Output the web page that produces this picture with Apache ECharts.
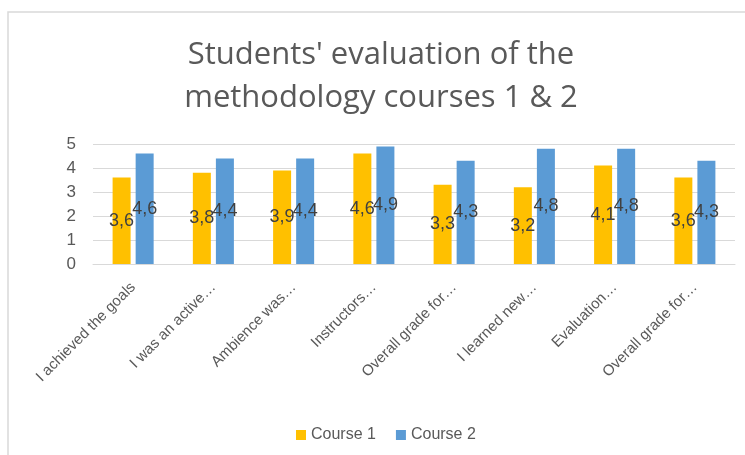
<!DOCTYPE html>
<html>
<head>
<meta charset="utf-8">
<script src="https://cdn.jsdelivr.net/npm/echarts@6/dist/echarts.min.js"></script>
<style>
html,body{margin:0;padding:0;background:#fff;}
#c{width:745px;height:455px;}
</style>
</head>
<body>
<div id="c"></div>
<script>
var categories = ["I achieved the goals","I was an active…","Ambience was…","Instructors…","Overall grade for…","I learned new…","Evaluation…","Overall grade for…"];
var course1 = [3.6,3.8,3.9,4.6,3.3,3.2,4.1,3.6];
var course2 = [4.6,4.4,4.4,4.9,4.3,4.8,4.8,4.3];
var seriesNames = ["Course 1","Course 2"];
var titleLines = ["Students' evaluation of the","methodology courses 1 & 2"];

var chart = echarts.init(document.getElementById('c'), null, {renderer:'canvas'});
var font = "'Liberation Sans', Arial, sans-serif";
var lbl = {
  show:true, position:'inside', color:'#404040', fontSize:18, fontFamily:font,
  formatter:function(p){return String(p.value).replace('.',',');}
};
chart.setOption({
  animation:false,
  backgroundColor:'#fff',
  graphic:[{type:'rect', shape:{x:8,y:12,width:760,height:460}, style:{fill:'none',stroke:'#d9d9d9',lineWidth:1.5}, silent:true}],
  title:{
    text:titleLines.join('\n'), left:376, top:29, textAlign:'center',
    textStyle:{fontFamily:"'Open Sans', sans-serif", fontSize:31, fontWeight:'normal', color:'#595959', lineHeight:43}
  },
  legend:{
    data:seriesNames, left:291, top:422, itemWidth:10, itemHeight:10, itemGap:20,
    icon:'rect',
    textStyle:{fontFamily:font, fontSize:16, color:'#595959'}
  },
  grid:{left:93, right:10, top:144, bottom:191, containLabel:false},
  xAxis:{
    type:'category', data:categories,
    axisLine:{show:true, lineStyle:{color:'#d9d9d9', width:1}},
    axisTick:{show:false},
    axisLabel:{rotate:45, interval:0, fontFamily:font, fontSize:15, color:'#595959', margin:21}
  },
  yAxis:{
    type:'value', min:0, max:5, interval:1,
    axisLine:{show:false}, axisTick:{show:false},
    splitLine:{lineStyle:{color:'#d9d9d9', width:1}},
    axisLabel:{fontFamily:font, fontSize:17, color:'#595959', margin:17}
  },
  series:[
    {name:seriesNames[0], type:'bar', data:course1, barWidth:18, barGap:'28%', itemStyle:{color:'#FFC000'}, label:lbl},
    {name:seriesNames[1], type:'bar', data:course2, barWidth:18, itemStyle:{color:'#5B9BD5'}, label:lbl}
  ]
});
</script>
</body>
</html>
